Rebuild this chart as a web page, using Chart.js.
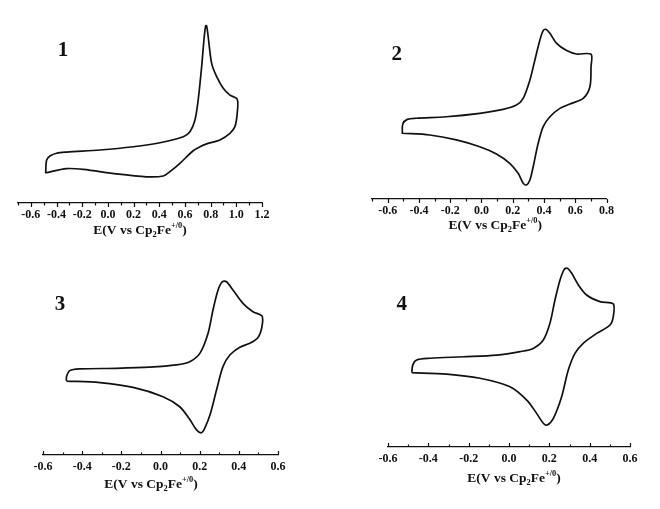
<!DOCTYPE html>
<html><head><meta charset="utf-8">
<script src="https://cdn.jsdelivr.net/npm/chart.js@4.4.1/dist/chart.umd.min.js"></script>
<style>
html,body{margin:0;padding:0;background:#fff;width:660px;height:509px;overflow:hidden}
canvas{position:absolute}
</style></head><body>
<canvas id="c1" style="left:0px;top:0px" width="330" height="254"></canvas>
<canvas id="c2" style="left:330px;top:0px" width="330" height="254"></canvas>
<canvas id="c3" style="left:0px;top:254px" width="330" height="255"></canvas>
<canvas id="c4" style="left:330px;top:254px" width="330" height="255"></canvas>
<script>
// ---- data (E in V vs Cp2Fe+/0, current in arbitrary units) ----
const E1 = [-0.485,-0.477,-0.451,-0.400,-0.321,-0.062,0.197,0.405,0.587,0.639,0.678,0.703,0.730,0.748,0.761,0.769,0.781,0.808,0.847,0.898,0.950,1.007,1.007,0.989,0.950,0.872,0.769,0.717,0.664,0.561,0.483,0.431,0.301,0.068,-0.192,-0.322,-0.485];
const I1 = [15.6,22.6,24.7,26.2,26.8,27.9,29.6,31.7,34.9,37.5,43.7,54.2,71.7,85.8,93.2,93.2,87.5,73.5,66.5,60.4,56.8,54.7,47.2,40.2,36.7,33.2,31.1,29.6,27.5,20.9,16.5,14.2,13.8,15.3,17.7,18.1,15.9];

const E2 = [-0.506,-0.503,-0.474,-0.417,-0.224,-0.011,0.138,0.224,0.267,0.310,0.342,0.374,0.395,0.412,0.438,0.481,0.545,0.609,0.701,0.701,0.694,0.651,0.566,0.502,0.438,0.395,0.363,0.331,0.310,0.288,0.267,0.235,0.181,0.096,-0.011,-0.160,-0.331,-0.506];
const I2 = [34.2,39.5,41.9,42.5,43.3,45.1,47.2,49.5,53.0,62.6,73.2,83.7,88.6,89.3,87.2,81.9,78.1,76.3,76.2,69.6,59.1,53.0,50.0,47.7,43.3,38.1,29.3,17.0,10.0,7.4,8.3,13.5,18.8,23.7,27.5,31.1,33.7,34.6];

const E3 = [-0.480,-0.480,-0.463,-0.412,-0.224,-0.055,0.082,0.149,0.201,0.243,0.268,0.294,0.316,0.337,0.370,0.421,0.472,0.518,0.518,0.498,0.456,0.405,0.354,0.319,0.286,0.255,0.226,0.209,0.184,0.149,0.098,0.013,-0.140,-0.310,-0.480];
const I3 = [38.9,41.2,44.4,45.3,45.6,46.2,47.4,49.1,53.5,64.1,76.3,86.8,91.2,91.2,86.8,79.8,75.4,73.2,67.5,61.9,58.8,56.7,52.6,46.5,34.2,21.9,14.1,11.7,13.2,18.8,25.4,30.7,35.6,38.1,38.9];

const E4 = [-0.482,-0.477,-0.458,-0.392,-0.227,-0.061,0.055,0.120,0.170,0.203,0.228,0.253,0.274,0.289,0.311,0.344,0.385,0.451,0.517,0.517,0.501,0.435,0.368,0.327,0.294,0.261,0.220,0.190,0.170,0.137,0.088,0.005,-0.144,-0.309,-0.482];
const I4 = [39.1,43.2,45.8,46.7,47.5,48.4,50.2,51.9,56.3,65.1,77.4,87.9,93.5,94.1,91.4,85.3,80.0,76.5,75.3,68.6,64.2,59.8,54.6,49.3,40.5,26.5,15.1,11.6,12.5,17.7,24.7,31.7,36.2,38.4,39.1];

const xRange1 = [-0.7, 1.2];
const xRange2 = [-0.7, 0.8];
const xRange3 = [-0.6, 0.6];
const xRange4 = [-0.6, 0.6];
const panelNames = ['1', '2', '3', '4'];
const axisTitleParts = [['E(V vs Cp','n'],['2','sub'],['Fe','n'],['+/0','sup'],[')','n']];

// ---- layout / style ----
const SERIF = '"Liberation Serif", "Times New Roman", serif';
const panels = [
  {id:'c1', E:E1, I:I1, xr:xRange1, name:panelNames[0], pad:{left:18,right:68,top:13,bottom:11}, tdir:1, tdx:0, tdy:26, lab:[63,50]},
  {id:'c2', E:E2, I:I2, xr:xRange2, name:panelNames[1], pad:{left:42,right:53.5,top:9,bottom:15}, tdir:1, tdx:6, tdy:25.5, lab:[66.7,53.3]},
  {id:'c3', E:E3, I:I3, xr:xRange3, name:panelNames[2], pad:{left:43,right:52,top:11,bottom:14}, tdir:-1, tdx:-9.5, tdy:28, lab:[60,49.3]},
  {id:'c4', E:E4, I:I4, xr:xRange4, name:panelNames[3], pad:{left:58,right:30,top:3,bottom:22}, tdir:-1, tdx:5, tdy:30, lab:[71.7,49.3]}
];

const decor = {
  id: 'decor',
  afterDraw(chart, args, o) {
    const ctx = chart.ctx, xs = chart.scales.x, ca = chart.chartArea;
    ctx.save();
    ctx.strokeStyle = '#111';
    ctx.lineWidth = 1.2;
    // tick marks (major every 0.2, minor every 0.1)
    const n0 = Math.round(o.xr[0] * 10), n1 = Math.round(o.xr[1] * 10);
    for (let k = n0; k <= n1; k++) {
      const px = Math.round(xs.getPixelForValue(k / 10)) + 0.5;
      const len = (Math.abs(k) % 2 === 0) ? 4 : 2.5;
      ctx.beginPath();
      ctx.moveTo(px, ca.bottom);
      ctx.lineTo(px, ca.bottom + o.tdir * len);
      ctx.stroke();
    }
    // axis title with sub/superscripts
    const fs = 13.5;
    const parts = axisTitleParts.map(([t, s]) => {
      const size = s === 'n' ? fs : fs * 0.62;
      ctx.font = 'bold ' + size + 'px ' + SERIF;
      return {t, s, size, w: ctx.measureText(t).width};
    });
    const total = parts.reduce((a, p) => a + p.w, 0);
    let x = (ca.left + ca.right) / 2 + o.tdx - total / 2;
    const y = ca.bottom + o.tdy;
    ctx.fillStyle = '#111';
    ctx.textBaseline = 'alphabetic';
    ctx.textAlign = 'left';
    for (const p of parts) {
      ctx.font = 'bold ' + p.size + 'px ' + SERIF;
      const dy = p.s === 'sub' ? 3 : (p.s === 'sup' ? -6 : 0);
      ctx.fillText(p.t, x, y + 4.5 + dy);
      x += p.w;
    }
    // panel number
    ctx.font = 'bold 21px ' + SERIF;
    ctx.textAlign = 'center';
    ctx.textBaseline = 'middle';
    ctx.fillText(o.name, o.lab[0], o.lab[1] + 1);
    ctx.restore();
  }
};
Chart.register(decor);

for (const p of panels) {
  const pts = p.E.map((e, i) => ({x: e, y: p.I[i]}));
  new Chart(document.getElementById(p.id), {
    type: 'scatter',
    data: {datasets: [{data: pts, showLine: true, borderColor: '#111', borderWidth: 1.7,
      pointRadius: 0, tension: 0.3, fill: false}]},
    options: {
      responsive: false, animation: false, devicePixelRatio: 1,
      layout: {padding: p.pad},
      plugins: {legend: {display: false}, tooltip: {enabled: false},
        decor: {xr: p.xr, name: p.name, tdir: p.tdir, tdx: p.tdx, tdy: p.tdy, lab: p.lab}},
      scales: {
        x: {type: 'linear', min: p.xr[0], max: p.xr[1],
          grid: {display: false, drawTicks: false},
          border: {display: true, color: '#111', width: 1.3},
          afterFit: s => { s.height = 40; s.paddingLeft = 0; s.paddingRight = 0; },
          ticks: {stepSize: 0.1, autoSkip: false, maxRotation: 0, padding: 5, color: '#111',
            font: {family: SERIF, size: 12, weight: 'bold'},
            callback: v => { const k = Math.round(v * 10); if (Math.abs(k) % 2 !== 0) return ''; return (k === 0 ? 0 : k / 10).toFixed(1); }}
        },
        y: {display: false, min: 0, max: 100}
      }
    }
  });
}
</script>
</body></html>
